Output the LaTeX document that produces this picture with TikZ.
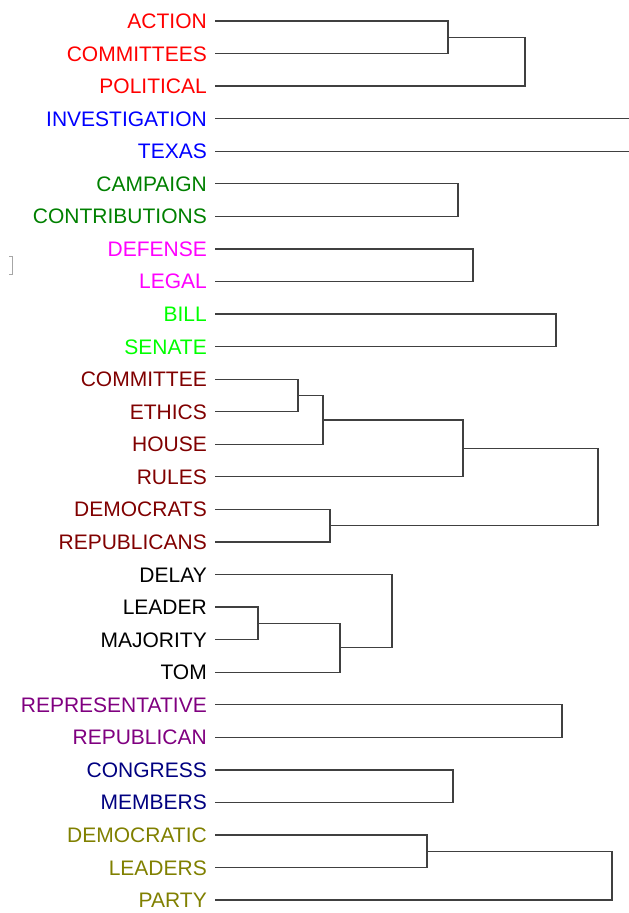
\documentclass[tikz,border=0pt]{standalone}
\usepackage{fontspec}
\setmainfont{Liberation Sans}
\definecolor{cred}{RGB}{255,0,0}
\definecolor{cblue}{RGB}{0,0,255}
\definecolor{cgreen}{RGB}{0,128,0}
\definecolor{cmag}{RGB}{255,0,255}
\definecolor{clime}{RGB}{0,255,0}
\definecolor{cmaroon}{RGB}{128,0,0}
\definecolor{cblack}{RGB}{0,0,0}
\definecolor{cpurple}{RGB}{128,0,128}
\definecolor{cnavy}{RGB}{0,0,128}
\definecolor{colive}{RGB}{128,128,0}
\definecolor{linec}{RGB}{64,64,64}
\newcommand{\RowY}[1]{21+32.56*(#1)}
\begin{document}
\begin{tikzpicture}[x=1pt,y=-1pt,
  lbl/.style={anchor=east,inner sep=0pt,text height=15pt,text depth=0pt,
    font=\fontsize{21}{25}\selectfont},
  link/.style={draw=linec,line width=1.3pt}]
\useasboundingbox (0,0) rectangle (629,913);
% labels and leaf ends
\foreach \t/\c [count=\i from 0] in {
  ACTION/cred, COMMITTEES/cred, POLITICAL/cred,
  INVESTIGATION/cblue, TEXAS/cblue,
  CAMPAIGN/cgreen, CONTRIBUTIONS/cgreen,
  DEFENSE/cmag, LEGAL/cmag,
  BILL/clime, SENATE/clime,
  COMMITTEE/cmaroon, ETHICS/cmaroon, HOUSE/cmaroon, RULES/cmaroon,
  DEMOCRATS/cmaroon, REPUBLICANS/cmaroon,
  DELAY/cblack, LEADER/cblack, MAJORITY/cblack, TOM/cblack,
  REPRESENTATIVE/cpurple, REPUBLICAN/cpurple,
  CONGRESS/cnavy, MEMBERS/cnavy,
  DEMOCRATIC/colive, LEADERS/colive, PARTY/colive}{
  \node[lbl,text=\c] (n\i) at (207,{\RowY{\i}}) {\t};
  \coordinate (a\i) at (215,{\RowY{\i}});
}
% merge points
\foreach \m/\x/\k in {m1/448/0.5, m2/525/1.25, m3/458/5.5, m4/473/7.5,
  m5/556/9.5, m6/298/11.5, m7/323/12.25, m8/463/13.125, m9/330/15.5,
  m10/598/14.3125, m11/258/18.5, m12/340/19.25, m13/392/18.125,
  m14/562/21.5, m15/453/23.5, m16/427/25.5, m17/612/26.25}{
  \coordinate (\m) at (\x,{\RowY{\k}});
}
\coordinate (e3) at (629,{\RowY{3}});
\coordinate (e4) at (629,{\RowY{4}});
% links
\path[link] (a0) -| (m1) |- (a1);
\path[link] (m1) -| (m2) |- (a2);
\path[link] (a3) -- (e3);
\path[link] (a4) -- (e4);
\path[link] (a5) -| (m3) |- (a6);
\path[link] (a7) -| (m4) |- (a8);
\path[link] (a9) -| (m5) |- (a10);
\path[link] (a11) -| (m6) |- (a12);
\path[link] (m6) -| (m7) |- (a13);
\path[link] (m7) -| (m8) |- (a14);
\path[link] (a15) -| (m9) |- (a16);
\path[link] (m8) -| (m10) |- (m9);
\path[link] (a18) -| (m11) |- (a19);
\path[link] (m11) -| (m12) |- (a20);
\path[link] (a17) -| (m13) |- (m12);
\path[link] (a21) -| (m14) |- (a22);
\path[link] (a23) -| (m15) |- (a24);
\path[link] (a25) -| (m16) |- (a26);
\path[link] (m16) -| (m17) |- (a27);
% small bracket mark at left
\draw[gray!70,line width=0.8pt] (9,256) -- (12,256) -- (12,274) -- (9,274);
\end{tikzpicture}
\end{document}
